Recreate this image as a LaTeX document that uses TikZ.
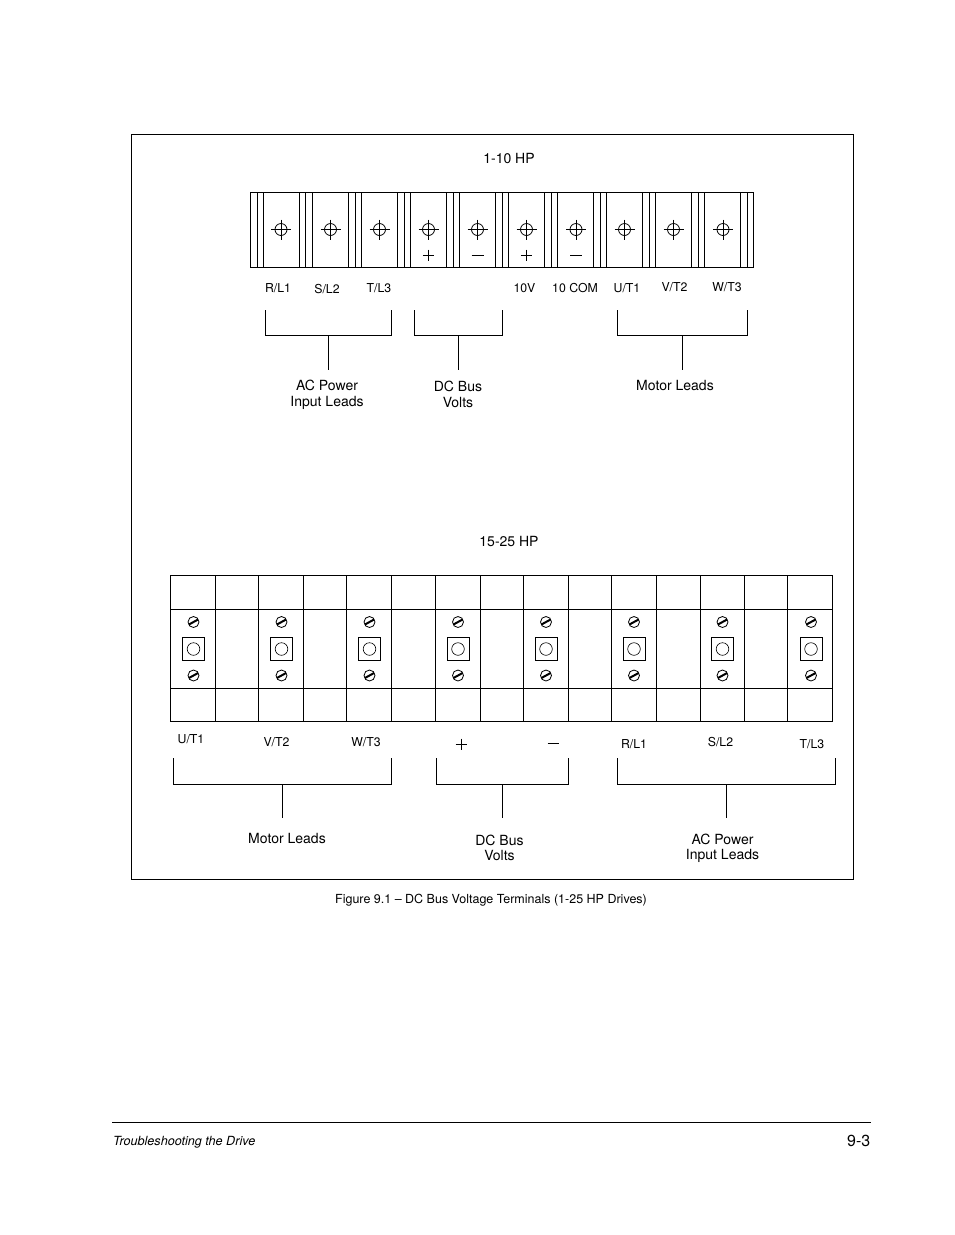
\documentclass[tikz,border=0pt]{standalone}
\usepackage{fontspec}
\setmainfont{TeX Gyre Heros}
\newcommand{\bigf}{\fontsize{14}{15.6}\selectfont}
\newcommand{\smallf}{\fontsize{12.3}{14}\selectfont}
\tikzset{
  ln/.style={line width=0.9pt,black},
  thinln/.style={line width=0.8pt,black},
  biglabel/.style={inner sep=0pt,font=\bigf,align=center,text=black},
  smalllabel/.style={inner sep=0pt,font=\smallf,text height=8.8pt,text depth=0pt,text=black},
}
\begin{document}
\begin{tikzpicture}[x=1pt,y=-1pt]
\useasboundingbox (0,0) rectangle (954,1235);
% frame
\node[draw,ln,minimum width=722pt,minimum height=745pt,inner sep=0pt] (frame) at (492.5,507) {};
\node[biglabel] (t1) at (509,158.4) {1-10 HP};
\node[biglabel] (t2) at (509,541.4) {15-25 HP};

% upper terminal block
\draw[ln] (250.5,192.5) rectangle (753.5,267.5);
\foreach \x in {257.5,263.5,299.5,305.5,312.5,348.5,355.5,361.5,397.5,404.5,410.5,446.5,453.5,459.5,495.5,502.5,508.5,544.5,551.5,557.5,593.5,600.5,606.5,642.5,649.5,655.5,691.5,698.5,704.5,740.5,747.5}
  \draw[ln] (\x,192.5) -- (\x,267.5);
\foreach \x in {281,330.5,379.5,428.5,477.5,526.5,576,624.5,673.5,723}{
  \draw[thinln] (\x,229.5) circle (6);
  \draw[thinln] (\x-10,229.5) -- (\x+10,229.5) (\x,219.5) -- (\x,240);
}
\foreach \x in {428.5,526.5}
  \draw[thinln] (\x-5.7,255) -- (\x+5.7,255) (\x,249.5) -- (\x,260.5);
\foreach \x in {477.5,576}
  \draw[thinln] (\x-6,255) -- (\x+6,255);

\node[smalllabel] (a1) at (278,288) {R/L1};
\node[smalllabel] (a2) at (327,289) {S/L2};
\node[smalllabel] (a3) at (379,288) {T/L3};
\node[smalllabel] (a4) at (524.5,288) {10V};
\node[smalllabel] (a5) at (575,288) {10 COM};
\node[smalllabel] (a6) at (627,288) {U/T1};
\node[smalllabel] (a7) at (674.5,287) {V/T2};
\node[smalllabel] (a8) at (727,287) {W/T3};

% upper brackets
\node[biglabel] (l1) at (327,395) {AC Power\\Input Leads};
\node[biglabel] (l2) at (458,394.5) {DC Bus\\Volts};
\node[biglabel] (l3) at (675,385.5) {Motor Leads};
\coordinate (b1a) at (265.5,310); \coordinate (b1b) at (265.5,335.5); \coordinate (b1c) at (391.5,335.5); \coordinate (b1d) at (391.5,310); \coordinate (b1m) at (328.5,335.5); \coordinate (b1e) at (328.5,369.5);
\coordinate (b2a) at (414.5,310); \coordinate (b2b) at (414.5,335.5); \coordinate (b2c) at (502.5,335.5); \coordinate (b2d) at (502.5,310); \coordinate (b2m) at (458.5,335.5); \coordinate (b2e) at (458.5,369.5);
\coordinate (b3a) at (617.5,310); \coordinate (b3b) at (617.5,335.5); \coordinate (b3c) at (747.5,335.5); \coordinate (b3d) at (747.5,310); \coordinate (b3m) at (682.5,335.5); \coordinate (b3e) at (682.5,369.5);
\foreach \b in {b1,b2,b3}{
  \draw[ln] (\b a) -- (\b b) -- (\b c) -- (\b d);
  \draw[ln] (\b m) -- (\b e);
}

% lower terminal block
\draw[ln] (170.5,575.5) rectangle (832.5,721.5);
\draw[ln] (170.5,609.5) -- (832.5,609.5);
\draw[ln] (170.5,688.5) -- (832.5,688.5);
\foreach \x in {215.5,258.5,303.5,346.5,391.5,435.5,480.5,523.5,568.5,611.5,656.5,700.5,744.5,787.5}
  \draw[ln] (\x,575.5) -- (\x,721.5);
\foreach \x in {193.5,281.5,369.5,458,546,634,722.5,811}{
  \draw[ln] (\x-11,637.5) rectangle (\x+11,660.5);
  \draw[line width=0.6pt] (\x,649) circle (6.3);
  \foreach \y in {622,675.5}{
    \draw[thinln] (\x,\y) circle (5.5);
    \draw[line width=2pt] (\x-4.6,\y+2.5) -- (\x+4.6,\y-2.5);
  }
}
\node[smalllabel] (c1) at (191,739) {U/T1};
\node[smalllabel] (c2) at (276.5,742) {V/T2};
\node[smalllabel] (c3) at (366,742) {W/T3};
\node[smalllabel] (c4) at (634,744) {R/L1};
\node[smalllabel] (c5) at (720.5,742) {S/L2};
\node[smalllabel] (c6) at (812,744) {T/L3};
\draw[thinln] (455.5,744) -- (467,744) (461.2,738.5) -- (461.2,749.5);
\draw[thinln] (547.5,743) -- (559,743);

% lower brackets
\node[biglabel] (l4) at (287,838.5) {Motor Leads};
\node[biglabel] (l5) at (499.5,848) {DC Bus\\[-0.6pt]Volts};
\node[biglabel] (l6) at (722.5,848) {AC Power\\[-0.6pt]Input Leads};
\coordinate (b4a) at (173.5,758); \coordinate (b4b) at (173.5,784.5); \coordinate (b4c) at (391.5,784.5); \coordinate (b4d) at (391.5,758); \coordinate (b4m) at (282.5,784.5); \coordinate (b4e) at (282.5,817.5);
\coordinate (b5a) at (436.5,758); \coordinate (b5b) at (436.5,784.5); \coordinate (b5c) at (568.5,784.5); \coordinate (b5d) at (568.5,758); \coordinate (b5m) at (502.5,784.5); \coordinate (b5e) at (502.5,817.5);
\coordinate (b6a) at (617.5,758); \coordinate (b6b) at (617.5,784.5); \coordinate (b6c) at (835.5,784.5); \coordinate (b6d) at (835.5,758); \coordinate (b6m) at (726.5,784.5); \coordinate (b6e) at (726.5,817.5);
\foreach \b in {b4,b5,b6}{
  \draw[ln] (\b a) -- (\b b) -- (\b c) -- (\b d);
  \draw[ln] (\b m) -- (\b e);
}

% caption and footer
\node[inner sep=0pt,font=\fontsize{12.5}{14}\selectfont,text=black] (cap) at (491,900) {Figure 9.1 – DC Bus Voltage Terminals (1-25 HP Drives)};
\coordinate (fl) at (112,1122); \coordinate (fr) at (870.5,1122);
\draw[ln] (fl) -- (fr);
\node[inner sep=0pt,anchor=west,font=\fontsize{12.6}{14}\selectfont\itshape,text=black] (ft) at (113,1142) {Troubleshooting the Drive};
\node[inner sep=0pt,anchor=east,font=\fontsize{16}{18}\selectfont,text=black] (pg) at (870.5,1141) {9-3};
\end{tikzpicture}
\end{document}
